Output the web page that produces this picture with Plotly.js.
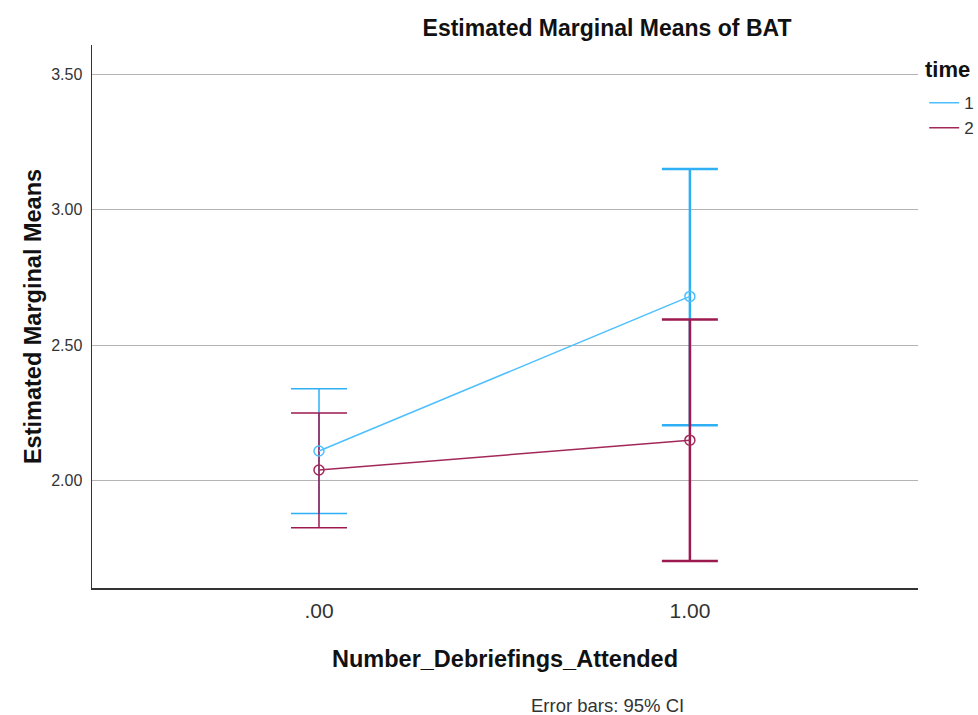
<!DOCTYPE html>
<html><head><meta charset="utf-8">
<script src="https://cdn.plot.ly/plotly-3.0.1.min.js"></script>
<style>html,body{margin:0;padding:0;background:#fff}#c{width:978px;height:715px}</style>
</head><body><div id="c"></div>
<script>
const categories = [0, 1];
const tickLabels = ['.00', '1.00'];
const seriesNames = ['1', '2'];
const legendTitle = 'time';
const time1Mean = [2.11, 2.68];
const time1Upper = [2.34, 3.15];
const time1Lower = [1.88, 2.205];
const time2Mean = [2.04, 2.15];
const time2Upper = [2.25, 2.595];
const time2Lower = [1.827, 1.705];

const colors = ['#4dbfff', '#a3285a'];
const errColors = ['#2fb0f5', '#9c1a50'];
const errThick = [[1.5, 2.5], [1.5, 2.5]];

const means = [time1Mean, time2Mean];
const uppers = [time1Upper, time2Upper];
const lowers = [time1Lower, time2Lower];

const traces = [];
for (let s = 0; s < 2; s++) {
  for (let i = 0; i < categories.length; i++) {
    traces.push({
      x: [categories[i]], y: [means[s][i]], type: 'scatter', mode: 'markers',
      marker: {size: 1, color: 'rgba(0,0,0,0)'}, showlegend: false, hoverinfo: 'skip',
      error_y: {type: 'data', symmetric: false,
        array: [uppers[s][i] - means[s][i]], arrayminus: [means[s][i] - lowers[s][i]],
        color: errColors[s], thickness: errThick[s][i], width: 28}
    });
  }
}
for (let s = 0; s < 2; s++) {
  traces.push({
    x: categories, y: means[s], type: 'scatter', mode: 'lines', name: seriesNames[s],
    line: {color: colors[s], width: 1.5}, showlegend: true
  });
  traces.push({
    x: categories, y: means[s], type: 'scatter', mode: 'markers', showlegend: false,
    marker: {symbol: 'circle-open', size: 10, color: colors[s], line: {width: 1.5, color: colors[s]}}
  });
}

const layout = {
  width: 978, height: 715,
  margin: {l: 92, r: 60, t: 45, b: 127},
  paper_bgcolor: '#fff', plot_bgcolor: '#fff',
  font: {family: 'Liberation Sans, Arial, sans-serif', color: '#222'},
  title: {text: '<b>Estimated Marginal Means of BAT</b>', font: {size: 23, color: '#111'},
    x: 0.6235, xref: 'paper', xanchor: 'center', y: 0.961, yref: 'container', yanchor: 'middle'},
  xaxis: {range: [-0.612, 1.615], tickvals: categories, ticktext: tickLabels,
    showgrid: false, zeroline: false, showline: true, linecolor: '#333', linewidth: 1.5,
    ticks: '', ticklabelstandoff: 3, tickfont: {size: 21, color: '#333'},
    title: {text: '<b>Number_Debriefings_Attended</b>', font: {size: 23.5, color: '#111'}, standoff: 30}},
  yaxis: {range: [1.605, 3.607], tickvals: [2.0, 2.5, 3.0, 3.5], ticktext: ['2.00', '2.50', '3.00', '3.50'],
    showgrid: true, gridcolor: '#b4b4b4', gridwidth: 1, zeroline: false, showline: true,
    linecolor: '#333', linewidth: 1.5, ticks: '', ticklabelstandoff: 5, tickfont: {size: 16, color: '#333'},
    title: {text: '<b>Estimated Marginal Means</b>', font: {size: 23.5, color: '#111'}, standoff: 3}},
  legend: {xref: 'container', yref: 'container', x: 0.945, xanchor: 'left', y: 0.881, yanchor: 'top',
    font: {size: 17, color: '#333'}, bgcolor: 'rgba(0,0,0,0)', itemwidth: 30, tracegroupgap: 0},
  annotations: [
    {text: 'Error bars: 95% CI', xref: 'paper', yref: 'paper',
      x: 0.6235, y: -0.2155, xanchor: 'center', yanchor: 'middle', showarrow: false,
      font: {size: 18.5, color: '#333'}},
    {text: '<b>' + legendTitle + '</b>', xref: 'paper', yref: 'paper',
      x: 1.0, xshift: 5, y: 0.955, xanchor: 'left', yanchor: 'middle', showarrow: false,
      font: {size: 22, color: '#111'}}
  ],
  showlegend: true
};
Plotly.newPlot('c', traces, layout, {displayModeBar: false, staticPlot: true});
</script></body></html>
